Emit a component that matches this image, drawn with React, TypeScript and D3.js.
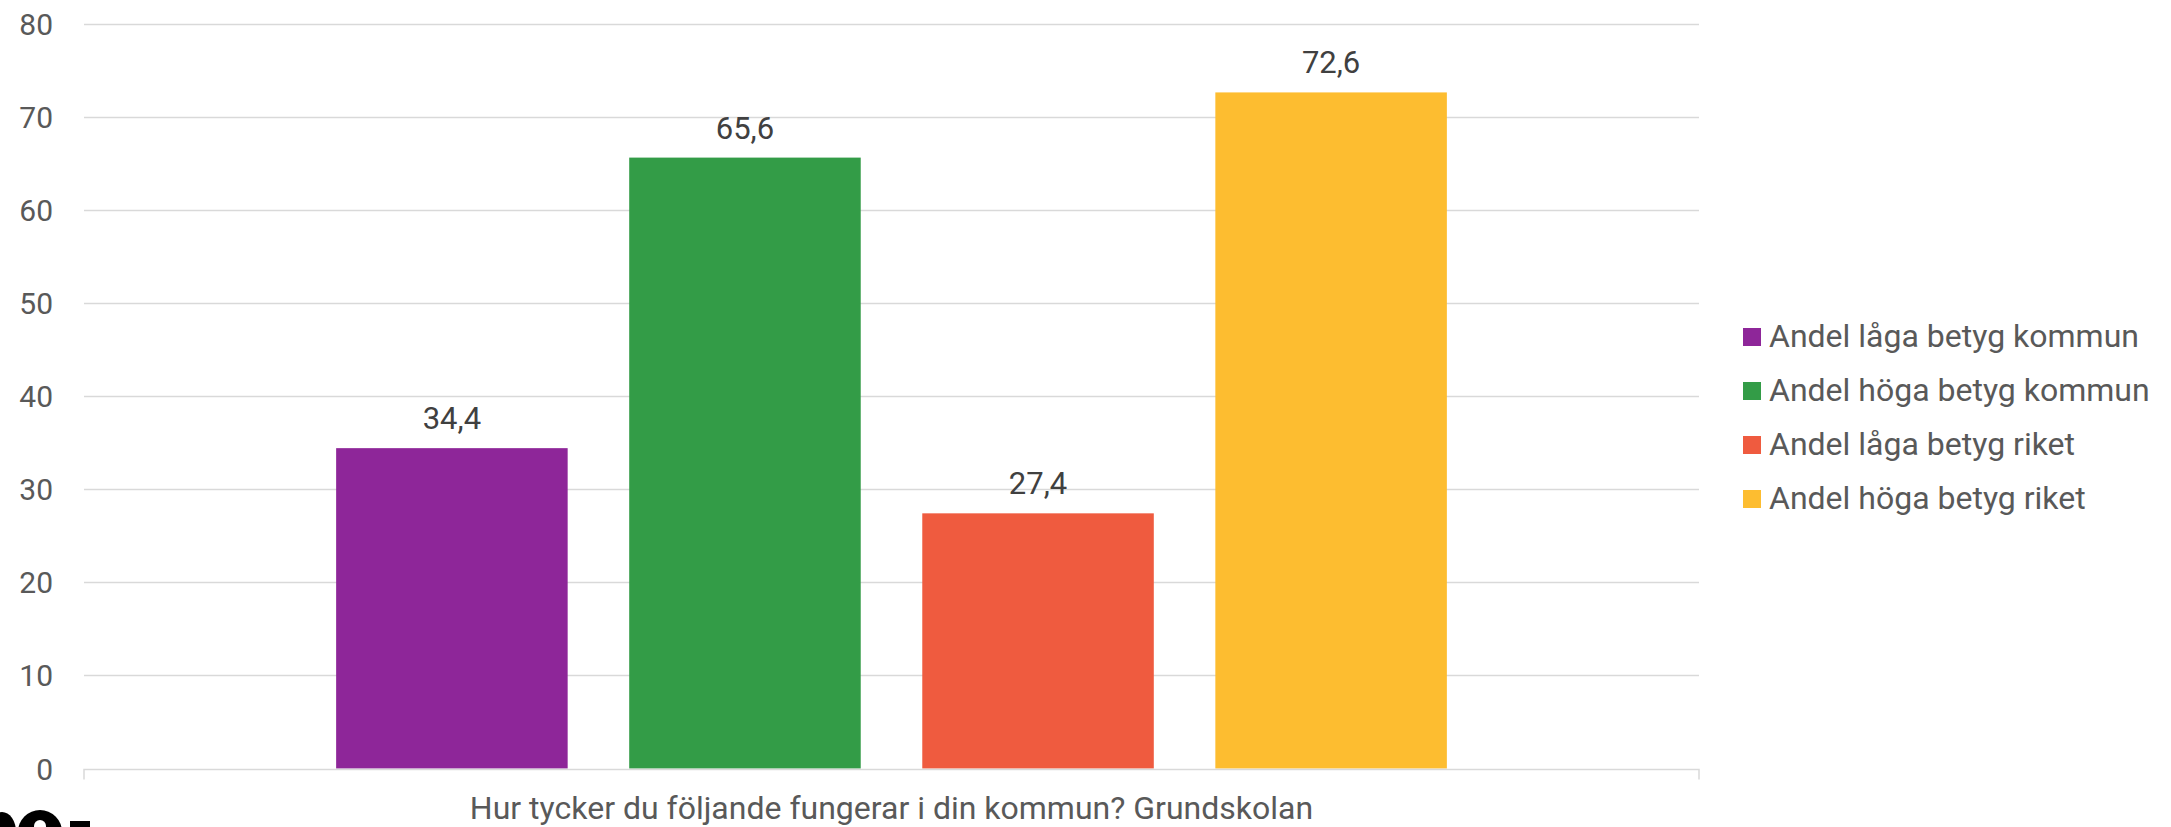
import React, { useEffect, useRef } from 'react'
import { select, scaleBand, scaleLinear, axisLeft } from 'd3'

// chart data
const category = 'Hur tycker du följande fungerar i din kommun? Grundskolan'
const seriesNames = [
    'Andel låga betyg kommun',
    'Andel höga betyg kommun',
    'Andel låga betyg riket',
    'Andel höga betyg riket',
]
const seriesValues = [34.4, 65.6, 27.4, 72.6]
const seriesColors = ['#8e2699', '#339c47', '#ef5b3f', '#fdbd30']
const yTicks = [0, 10, 20, 30, 40, 50, 60, 70, 80]

const W = 2171
const H = 827

const App = () => {
    const ref = useRef<SVGSVGElement>(null)

    useEffect(() => {
        const svg = select(ref.current)
        svg.selectAll('*').remove()

        const margins = { top: 23.5, right: 472, bottom: 58.5, left: 84 }
        const font = 'Roboto, "Noto Sans", sans-serif'

        const y = scaleLinear().domain([0, 80]).range([H - margins.bottom, margins.top])
        const x0 = scaleBand().domain([category]).range([margins.left, W - margins.right])
            .paddingInner(0).paddingOuter(0.227)
        const x1 = scaleBand().domain(seriesNames).range([0, x0.bandwidth()])
            .paddingInner(0.21).paddingOuter(0)

        // gridlines
        svg.append('g').selectAll('line').data(yTicks.filter(t => t > 0)).join('line')
            .attr('x1', margins.left).attr('x2', W - margins.right)
            .attr('y1', d => Math.round(y(d)) + 0.5).attr('y2', d => Math.round(y(d)) + 0.5)
            .attr('stroke', '#d9d9d9').attr('stroke-width', 1.5)

        // y axis labels only
        const ya = svg.append('g').attr('transform', `translate(${margins.left - 31},0)`)
            .call(axisLeft(y).tickValues(yTicks).tickSize(0).tickPadding(0))
        ya.select('.domain').remove()
        ya.selectAll('text').attr('font-family', font).attr('font-size', 30)
            .attr('fill', '#595959').attr('dy', '0.35em')

        // bars
        const g = svg.append('g').attr('transform', `translate(${x0(category)},0)`)
        const rows = seriesNames.map((name, i) => ({ name, value: seriesValues[i], color: seriesColors[i] }))
        g.selectAll('rect').data(rows).join('rect')
            .attr('x', d => x1(d.name)!)
            .attr('y', d => y(d.value))
            .attr('width', x1.bandwidth())
            .attr('height', d => y(0) - y(d.value))
            .attr('fill', d => d.color)

        g.selectAll('text.val').data(rows).join('text')
            .attr('class', 'val')
            .attr('x', d => x1(d.name)! + x1.bandwidth() / 2)
            .attr('y', d => y(d.value) - 19)
            .attr('text-anchor', 'middle')
            .attr('font-family', font).attr('font-size', 31)
            .attr('fill', '#404040')
            .text(d => String(d.value).replace('.', ','))

        // x axis line with end ticks
        const y0 = Math.round(y(0)) + 0.5
        svg.append('path')
            .attr('d', `M${margins.left},${y0 + 10}V${y0}H${W - margins.right}V${y0 + 10}`)
            .attr('fill', 'none').attr('stroke', '#d9d9d9').attr('stroke-width', 1.5)

        svg.append('text')
            .attr('x', x0(category)! + x0.bandwidth() / 2)
            .attr('y', 819)
            .attr('text-anchor', 'middle')
            .attr('font-family', font).attr('font-size', 32)
            .attr('fill', '#595959')
            .text(category)

        // legend
        const lg = svg.append('g').attr('transform', 'translate(1743,337)')
        const item = lg.selectAll('g').data(rows).join('g')
            .attr('transform', (d, i) => `translate(0,${i * 54})`)
        item.append('rect').attr('x', 0).attr('y', -9).attr('width', 18).attr('height', 18)
            .attr('fill', d => d.color)
        item.append('text').attr('x', 26).attr('y', 0).attr('dy', '0.32em')
            .attr('font-family', font).attr('font-size', 32).attr('fill', '#595959')
            .text(d => d.name)

        // cut-off logo fragment at bottom left
        const logo = svg.append('g').attr('fill', '#000')
        logo.append('ellipse').attr('cx', 2).attr('cy', 832).attr('rx', 14).attr('ry', 20)
        logo.append('circle').attr('cx', 40).attr('cy', 832).attr('r', 22)
        logo.append('circle').attr('cx', 40).attr('cy', 826).attr('r', 6).attr('fill', '#fff')
        logo.append('rect').attr('x', 70).attr('y', 821).attr('width', 20).attr('height', 8)
    }, [])

    return (
        <svg ref={ref} width={W} height={H}
            style={{ position: 'absolute', left: 0, top: 0, background: '#fff' }} />
    )
}

export default App
